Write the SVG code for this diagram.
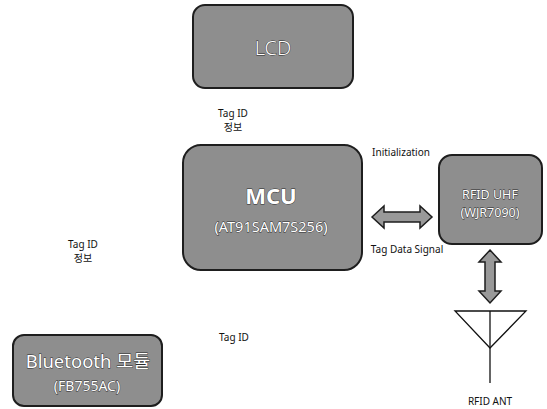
<svg xmlns="http://www.w3.org/2000/svg" width="547" height="409" viewBox="0 0 547 409">
<style>
.box{fill:#8e8e8e;stroke:#1e1e1e;stroke-width:2}
.t{font-family:"Noto Sans","Noto Sans CJK KR",sans-serif;fill:#fff;stroke:#2a2a2a;stroke-width:0.8;paint-order:stroke;text-anchor:middle}
.s{font-family:"Noto Sans","Noto Sans CJK KR",sans-serif;fill:#111;font-size:10px;text-anchor:middle}
.arr{fill:#999;stroke:#1e1e1e;stroke-width:1.5;stroke-linejoin:miter}
.ln{stroke:#111;stroke-width:1.3;fill:none}
</style>
<rect width="547" height="409" fill="#fff"/>
<g id="lcd">
<rect class="box" x="193" y="5" width="160" height="83" rx="12"/>
<text class="t" x="273" y="55" font-size="20" font-weight="300">LCD</text>
</g>
<g id="mcu">
<rect class="box" x="183" y="145" width="179" height="125" rx="18"/>
<text class="t" x="271" y="204" font-size="22" font-weight="700">MCU</text>
<text class="t" x="271" y="232" font-size="14.5">(AT91SAM7S256)</text>
</g>
<g id="rfid">
<rect class="box" x="439" y="155" width="103" height="89" rx="13"/>
<text class="t" x="490" y="199" font-size="12.5">RFID UHF</text>
<text class="t" x="490" y="217" font-size="12.5">(WJR7090)</text>
</g>
<g id="bluetooth">
<rect class="box" x="13" y="335" width="149" height="71" rx="11"/>
<text class="t" x="88" y="368" font-size="18.5">Bluetooth 모듈</text>
<text class="t" x="87" y="391" font-size="14">(FB755AC)</text>
</g>
<g id="antenna">
<polygon class="ln" points="455,311 526,311 490,348"/>
<line class="ln" x1="490" y1="311" x2="490" y2="383"/>
<text class="s" x="490" y="405">RFID ANT</text>
</g>
<g id="connectors">
<polygon class="arr" points="372,217 384,206 384,212 420,212 420,206 432,217 420,228 420,222 384,222 384,228"/>
<polygon class="arr" points="490,250 501,262 495,262 495,291 501,291 490,303 479,291 485,291 485,262 479,262"/>
</g>
<g id="labels">
<text class="s" x="233" y="117">Tag ID</text>
<text class="s" x="233" y="131">정보</text>
<text class="s" x="83" y="248">Tag ID</text>
<text class="s" x="83" y="262">정보</text>
<text class="s" x="401" y="156">Initialization</text>
<text class="s" x="407" y="253">Tag Data Signal</text>
<text class="s" x="234" y="341">Tag ID</text>
</g>
</svg>
